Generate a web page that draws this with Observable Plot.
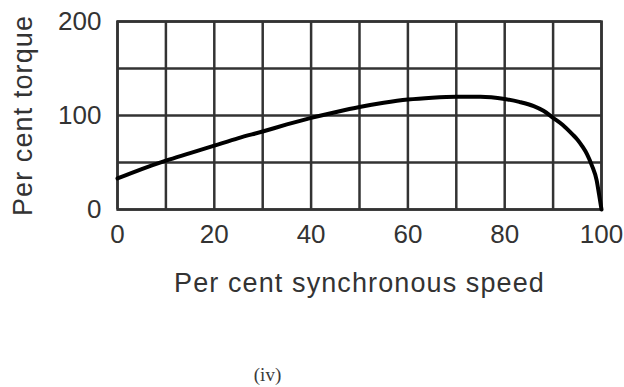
<!DOCTYPE html>
<html>
<head>
<meta charset="utf-8">
<script src="https://cdn.jsdelivr.net/npm/d3@7"></script>
<script src="https://cdn.jsdelivr.net/npm/@observablehq/plot@0.6"></script>
<style>
  body { margin: 0; background: #fff; }
  #wrap { position: relative; width: 624px; height: 387px; }
  #cap { position: absolute; left: 0; width: 535px; top: 364px; text-align: center;
         font-family: "Liberation Serif", "DejaVu Serif", serif; font-size: 19px; color: #3a3a3a; }
</style>
</head>
<body>
<div id="wrap"><div id="chart"></div><div id="cap">(iv)</div></div>
<script>
const speed  = [0, 5, 10, 15, 20, 25, 30, 35, 40, 45, 50, 55, 60, 65, 70, 75, 80, 83, 86, 88, 90, 92, 94, 95, 96, 97, 98, 99, 99.5, 100];
const torque = [33, 43, 52, 60, 68, 76, 83, 90.5, 97.5, 103.5, 109, 113.5, 117, 119, 120, 120, 117.5, 114.5, 110, 105, 97.5, 90, 80, 74.5, 67.5, 59, 47, 31, 16, 0];
const xTicks = [0, 20, 40, 60, 80, 100];
const xGrid = [0, 10, 20, 30, 40, 50, 60, 70, 80, 90, 100];
const yTicks = [0, 100, 200];
const yGrid = [0, 50, 100, 150, 200];
const xLabel = "Per cent synchronous speed";
const yLabel = "Per cent torque";

const data = speed.map((s, i) => ({speed: s, torque: torque[i]}));

const chart = Plot.plot({
  width: 624,
  height: 345,
  marginLeft: 117,
  marginRight: 23,
  marginTop: 21,
  marginBottom: 136,
  style: {fontFamily: "'Liberation Sans', Arial, sans-serif", fontSize: "26px", color: "#333", background: "#fff"},
  x: {domain: [0, 100]},
  y: {domain: [0, 200]},
  marks: [
    Plot.gridX(xGrid, {stroke: "#333", strokeOpacity: 1, strokeWidth: 2.5}),
    Plot.gridY(yGrid, {stroke: "#333", strokeOpacity: 1, strokeWidth: 2.5}),
    Plot.axisX(xTicks, {tickSize: 0, tickPadding: 15, fontSize: 26, fill: "#333",
      label: xLabel, labelAnchor: "center", labelArrow: "none", labelOffset: 82}),
    Plot.axisY(yTicks, {tickSize: 0, tickPadding: 16, fontSize: 26, fill: "#333",
      label: yLabel, labelAnchor: "center", labelArrow: "none", labelOffset: 105}),
    Plot.frame({stroke: "#333", strokeWidth: 2.5}),
    Plot.line(data, {x: "speed", y: "torque", stroke: "#000", strokeWidth: 4, curve: "monotone-x"})
  ]
});
document.getElementById("chart").appendChild(chart);
d3.select(chart).selectAll("[aria-label='x-axis label'] text, [aria-label='y-axis label'] text")
  .style("font-size", "27px").style("letter-spacing", "1.1px");
</script>
</body>
</html>
